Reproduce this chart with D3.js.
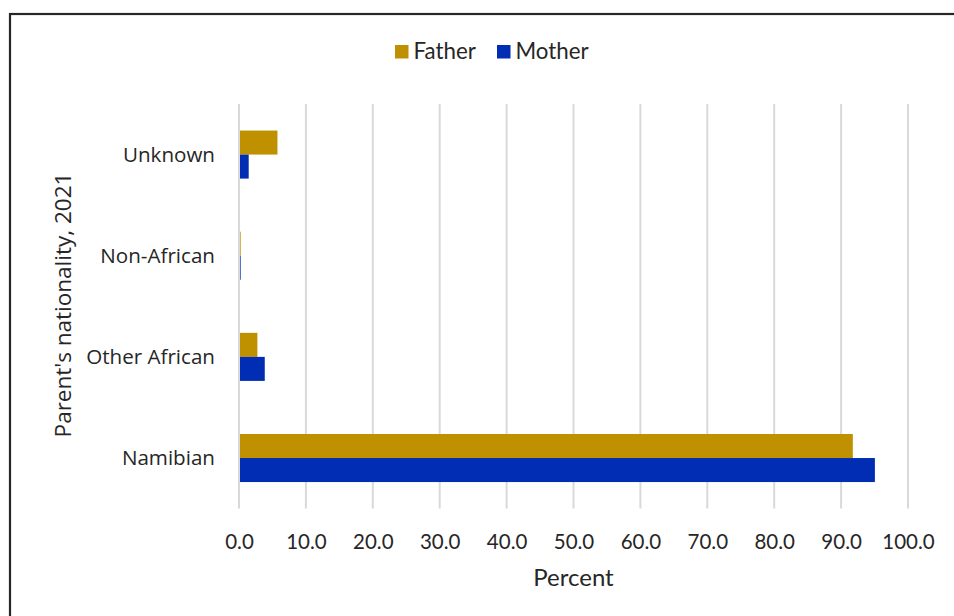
<!DOCTYPE html>
<html>
<head>
<meta charset="utf-8">
<script src="https://cdn.jsdelivr.net/npm/d3@7"></script>
<style>
  html, body { margin: 0; padding: 0; background: #fff; }
  svg { display: block; }
</style>
</head>
<body>
<svg id="chart" width="954" height="616"></svg>
<script>
// Parent's nationality of births, 2021 (percent)
const categories = ["Namibian", "Other African", "Non-African", "Unknown"];
const seriesNames = ["Father", "Mother"];
const fatherValues = [91.6, 2.6, 0.1, 5.6];
const motherValues = [94.9, 3.7, 0.1, 1.3];
const xTicks = [0, 10, 20, 30, 40, 50, 60, 70, 80, 90, 100];
const colors = ["#bf9000", "#002db3"];

const svg = d3.select("#chart");
const plot = { left: 239, right: 908, top: 104, bottom: 508.6 };

// outer frame (runs past the right and bottom edges)
svg.append("rect")
  .attr("x", 10).attr("y", 14)
  .attr("width", 1000).attr("height", 700)
  .attr("fill", "#fff")
  .attr("stroke", "#262626").attr("stroke-width", 2.2);

const x = d3.scaleLinear().domain([0, 100]).range([plot.left, plot.right]);
const y = d3.scaleBand().domain(categories.slice().reverse())
  .range([plot.top, plot.bottom]).paddingInner(0.525).paddingOuter(0.2625);
const sub = d3.scaleBand().domain(seriesNames).range([0, y.bandwidth()]);

// vertical gridlines
svg.append("g")
  .selectAll("line").data(xTicks).join("line")
  .attr("x1", d => x(d)).attr("x2", d => x(d))
  .attr("y1", plot.top).attr("y2", plot.bottom)
  .attr("stroke", "#d9d9d9").attr("stroke-width", 2);

// bars
const rows = categories.map((c, i) => ({ c, vals: [fatherValues[i], motherValues[i]] }));
const groups = svg.append("g").selectAll("g").data(rows).join("g")
  .attr("transform", d => `translate(0,${y(d.c)})`);
groups.selectAll("rect")
  .data(d => d.vals.map((v, j) => ({ v, s: seriesNames[j], j })))
  .join("rect")
  .attr("x", x(0) + 1)
  .attr("y", d => sub(d.s))
  .attr("width", d => Math.max(0.6, x(d.v) - x(0)))
  .attr("height", sub.bandwidth())
  .attr("fill", d => colors[d.j]);

// x axis tick labels
const xAxis = d3.axisBottom(x).tickValues(xTicks).tickFormat(d3.format(".1f")).tickSize(0);
const gx = svg.append("g").attr("transform", `translate(0,${plot.bottom})`).call(xAxis);
gx.select(".domain").remove();
gx.selectAll("text")
  .attr("dy", 0).attr("y", 40)
  .attr("font-family", "Lato, sans-serif").attr("font-size", 20.5).attr("fill", "#262626");

// category labels
const yAxis = d3.axisLeft(y).tickSize(0);
const gy = svg.append("g").attr("transform", `translate(${plot.left - 24},0)`).call(yAxis);
gy.select(".domain").remove();
gy.selectAll("text")
  .attr("x", 0).attr("dy", "0.35em")
  .attr("font-family", "'Open Sans', sans-serif").attr("font-size", 20.6).attr("fill", "#262626");

// axis titles
svg.append("text")
  .attr("x", (plot.left + plot.right) / 2).attr("y", 586)
  .attr("text-anchor", "middle")
  .attr("font-family", "Lato, sans-serif").attr("font-size", 24).attr("fill", "#262626")
  .text("Percent");

svg.append("text")
  .attr("transform", `translate(71,305) rotate(-90)`)
  .attr("text-anchor", "middle")
  .attr("font-family", "'Open Sans', sans-serif").attr("font-size", 22.5).attr("fill", "#262626")
  .text("Parent's nationality, 2021");

// legend
const legendItems = [
  { name: "Father", color: colors[0], x: 395 },
  { name: "Mother", color: colors[1], x: 497 }
];
const lg = svg.append("g");
legendItems.forEach(it => {
  lg.append("rect").attr("x", it.x).attr("y", 45).attr("width", 13.5).attr("height", 13.5).attr("fill", it.color);
  lg.append("text").attr("x", it.x + 18.5).attr("y", 51.5).attr("dy", "0.35em")
    .attr("font-family", "Lato, sans-serif").attr("font-size", 22.3).attr("fill", "#262626")
    .text(it.name);
});
</script>
</body>
</html>
